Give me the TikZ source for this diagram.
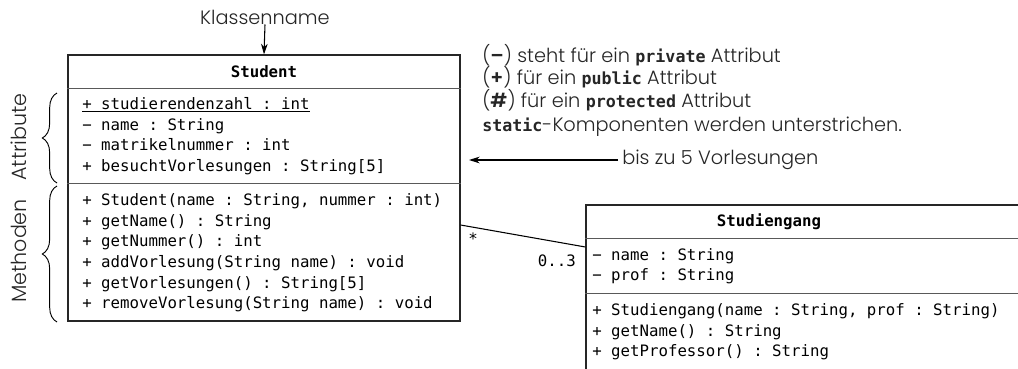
\documentclass[tikz,border=0pt]{standalone}
\usepackage{fontspec}
\setmainfont{Poppins}[UprightFont=* Light,BoldFont=* SemiBold]
\setmonofont{DejaVu Sans Mono}
\usepackage{tikz}
\usetikzlibrary{arrows.meta,calc,decorations.pathreplacing}
\newcommand{\kw}[1]{{\ttfamily\bfseries\fontsize{12.5}{14}\selectfont #1}}

\begin{document}
\begin{tikzpicture}[
    x=0.75pt,y=-0.75pt,
    umlbox/.style={draw=black!85,line width=0.9pt,inner sep=0pt},
    sep/.style={draw=black!65,line width=0.9pt},
    head/.style={inner sep=0pt,font=\ttfamily\bfseries\fontsize{11.8}{14}\selectfont},
    member/.style={anchor=west,inner sep=0pt,text height=8.5pt,text depth=2.5pt,
                   font=\ttfamily\fontsize{11.8}{14}\selectfont},
    note/.style={anchor=west,inner sep=0pt,text height=9pt,text depth=3pt,
                 text=black!85,font=\fontsize{14.5}{16}\selectfont},
    side/.style={inner sep=0pt,text=black!85,font=\fontsize{14.5}{16}\selectfont},
    arrow/.style={-{Stealth[length=8pt,width=5pt]},line width=0.8pt},
    klammer/.style={decorate,decoration={brace,amplitude=11pt},line width=0.7pt}
]
\useasboundingbox (0,0) rectangle (1018,368);
\clip (0,0) rectangle (1018,368);

\node[umlbox,minimum width=294pt,minimum height=199.5pt] (student) at (264,188) {};
\draw[sep] ($(student.north west)+(0,34)$) -- ($(student.north east)+(0,34)$);
\draw[sep] ($(student.north west)+(0,129)$) -- ($(student.north east)+(0,129)$);
\node[head] (studenthead) at (264,72) {Student};

\node[member] (sattr1) at (82,105) {\underline{+ studierendenzahl : int}};
\node[member] (sattr2) at (82,126) {− name : String};
\node[member] (sattr3) at (82,146) {− matrikelnummer : int};
\node[member] (sattr4) at (82,167) {+ besuchtVorlesungen : String[5]};

\node[member] (sop1) at (82,201) {+ Student(name : String, nummer : int)};
\node[member] (sop2) at (82,222) {+ getName() : String};
\node[member] (sop3) at (82,242) {+ getNummer() : int};
\node[member] (sop4) at (82,263) {+ addVorlesung(String name) : void};
\node[member] (sop5) at (82,284) {+ getVorlesungen() : String[5]};
\node[member] (sop6) at (82,304) {+ removeVorlesung(String name) : void};

\node[umlbox,minimum width=340.5pt,minimum height=142.5pt] (gang) at (813,300) {};
\draw[sep] ($(gang.north west)+(0,34)$) -- ($(gang.north east)+(0,34)$);
\draw[sep] ($(gang.north west)+(0,89)$) -- ($(gang.north east)+(0,89)$);
\node[head] (ganghead) at (769,222) {Studiengang};

\node[member] (gattr1) at (592,256) {− name : String};
\node[member] (gattr2) at (592,276) {− prof : String};

\node[member] (gop1) at (592,311) {+ Studiengang(name : String, prof : String)};
\node[member] (gop2) at (592,332) {+ getName() : String};
\node[member] (gop3) at (592,352) {+ getProfessor() : String};

\node[side] (klassenname) at (265,17) {Klassenname};
\draw[arrow] (klassenname.south) -- (student.north);

\draw[klammer] (57,183) -- (57,93);
\draw[klammer] (57,322) -- (57,186);
\node[side,rotate=90,font=\fontsize{15.5}{18}\selectfont] (attribute) at (19,137) {Attribute};
\node[side,rotate=90,font=\fontsize{15.5}{18}\selectfont] (methoden) at (19,251) {Methoden};

\node[note] (notepriv) at (482,58) {(\textbf{–}) steht für ein \kw{private} Attribut};
\node[note] (notepub) at (482,80) {(\textbf{+}) für ein \kw{public} Attribut};
\node[note] (noteprot) at (482,103) {(\textbf{\#}) für ein \kw{protected} Attribut};
\node[note] (notestat) at (482,127) {\kw{static}-Komponenten werden unterstrichen.};

\node[note] (vorlnote) at (622,160) {bis zu 5 Vorlesungen};
\coordinate (vorltip) at (469,160);
\draw[arrow] (vorlnote.west) ++(-4,0) -- (vorltip);

\draw[line width=0.8pt] ($(student.east)+(0,37)$) -- ($(gang.west)+(0,-53)$);
\node[member] (multstudent) at (468,240) {*};
\node[member,anchor=east] (multgang) at (576,262) {0..3};
\end{tikzpicture}
\end{document}
